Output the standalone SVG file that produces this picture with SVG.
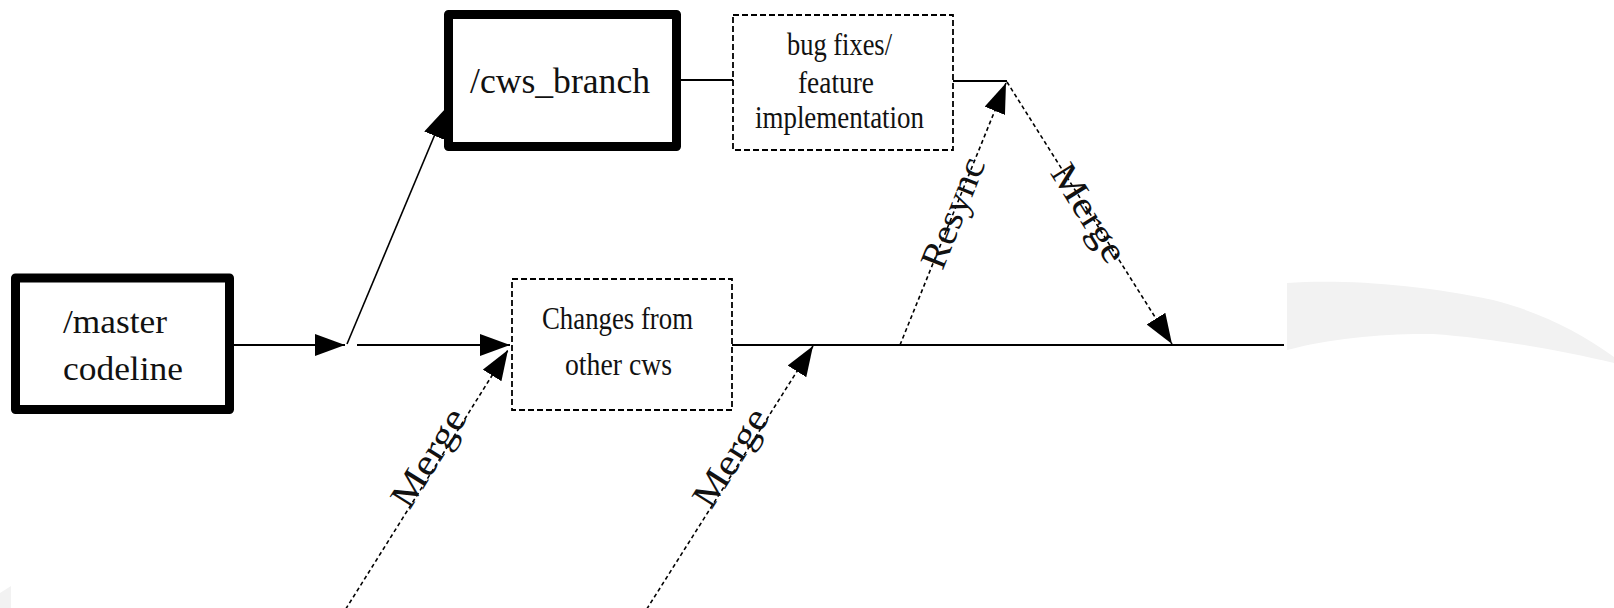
<svg xmlns="http://www.w3.org/2000/svg" width="1614" height="608" viewBox="0 0 1614 608">
<style>
  text { font-family: "Liberation Serif", "Times New Roman", serif; fill: #111; }
  .thick { fill: #fff; stroke: #000; stroke-width: 9; stroke-linejoin: round; }
  .dbox { fill: #fff; stroke: #000; stroke-width: 1.8; stroke-dasharray: 6 3; }
  .solid { fill: none; stroke: #000; stroke-width: 2.2; }
  .dash { fill: none; stroke: #000; stroke-width: 1.6; stroke-dasharray: 4 3; }
  .fine { fill: none; stroke: #000; stroke-width: 1.6; }
  .lbl { font-size: 37px; text-anchor: middle; }
  .swoosh { fill: #f2f2f2; stroke: none; }
</style>
<defs>
  <marker id="arr" markerUnits="userSpaceOnUse" viewBox="0 0 30 22" markerWidth="30" markerHeight="22" refX="30" refY="11" orient="auto">
    <path d="M0,0 L30,11 L0,22 z" fill="#000"/>
  </marker>
</defs>
<rect width="1614" height="608" fill="#fff"/>
<g id="background">
  <path class="swoosh" d="M1287,283 C1340,279 1420,284 1493,300 C1540,312 1580,332 1614,357 L1614,363 C1560,350 1490,338 1433,334 C1390,333 1330,338 1287,350 Z"/>
  <path class="swoosh" d="M0,593 L11,586 L11,608 L0,608 Z"/>
</g>
<g id="connectors">
  <line class="solid" x1="234" y1="345" x2="345" y2="345" marker-end="url(#arr)"/>
  <line class="solid" x1="357" y1="345" x2="510" y2="345" marker-end="url(#arr)"/>
  <line class="fine" x1="347" y1="344" x2="446" y2="108" marker-end="url(#arr)"/>
  <line class="solid" x1="681" y1="80" x2="733" y2="80"/>
  <line class="solid" x1="953" y1="81" x2="1007" y2="81"/>
  <line class="solid" x1="732" y1="345" x2="1284" y2="345"/>
  <line class="dash" x1="342" y1="615" x2="508" y2="350" marker-end="url(#arr)"/>
  <line class="dash" x1="643" y1="615" x2="813" y2="346" marker-end="url(#arr)"/>
  <line class="dash" x1="900" y1="345" x2="1006" y2="83" marker-end="url(#arr)"/>
  <line class="dash" x1="1007" y1="82" x2="1172" y2="344" marker-end="url(#arr)"/>
  <g transform="translate(437,463) rotate(-57.9)"><text class="lbl" x="0" y="2" textLength="110" lengthAdjust="spacingAndGlyphs">Merge</text></g>
  <g transform="translate(739,463) rotate(-57.6)"><text class="lbl" x="0" y="2" textLength="110" lengthAdjust="spacingAndGlyphs">Merge</text></g>
  <g transform="translate(953,213) rotate(-68.2)"><text class="lbl" x="0" y="12" textLength="116" lengthAdjust="spacingAndGlyphs">Resync</text></g>
  <g transform="translate(1089,213) rotate(57.9)"><text class="lbl" x="0" y="12" textLength="110" lengthAdjust="spacingAndGlyphs">Merge</text></g>
</g>
<g id="master">
  <rect class="thick" x="15.5" y="278" width="214" height="131.5"/>
  <text x="63" y="333" font-size="33" textLength="104" lengthAdjust="spacingAndGlyphs">/master</text>
  <text x="63" y="380" font-size="33" textLength="120" lengthAdjust="spacingAndGlyphs">codeline</text>
</g>
<g id="cws_branch">
  <rect class="thick" x="448.5" y="14.5" width="228" height="132"/>
  <text x="470" y="93" font-size="36" textLength="180" lengthAdjust="spacingAndGlyphs">/cws_branch</text>
</g>
<g id="bugfixes">
  <rect class="dbox" x="733" y="15" width="220" height="135"/>
  <text x="787" y="55" font-size="32" textLength="105" lengthAdjust="spacingAndGlyphs">bug fixes/</text>
  <text x="798" y="93" font-size="32" textLength="76" lengthAdjust="spacingAndGlyphs">feature</text>
  <text x="755" y="128" font-size="32" textLength="169" lengthAdjust="spacingAndGlyphs">implementation</text>
</g>
<g id="changes">
  <rect class="dbox" x="512" y="279" width="220" height="131"/>
  <text x="542" y="329" font-size="32" textLength="151" lengthAdjust="spacingAndGlyphs">Changes from</text>
  <text x="565" y="375" font-size="32" textLength="107" lengthAdjust="spacingAndGlyphs">other cws</text>
</g>
</svg>
